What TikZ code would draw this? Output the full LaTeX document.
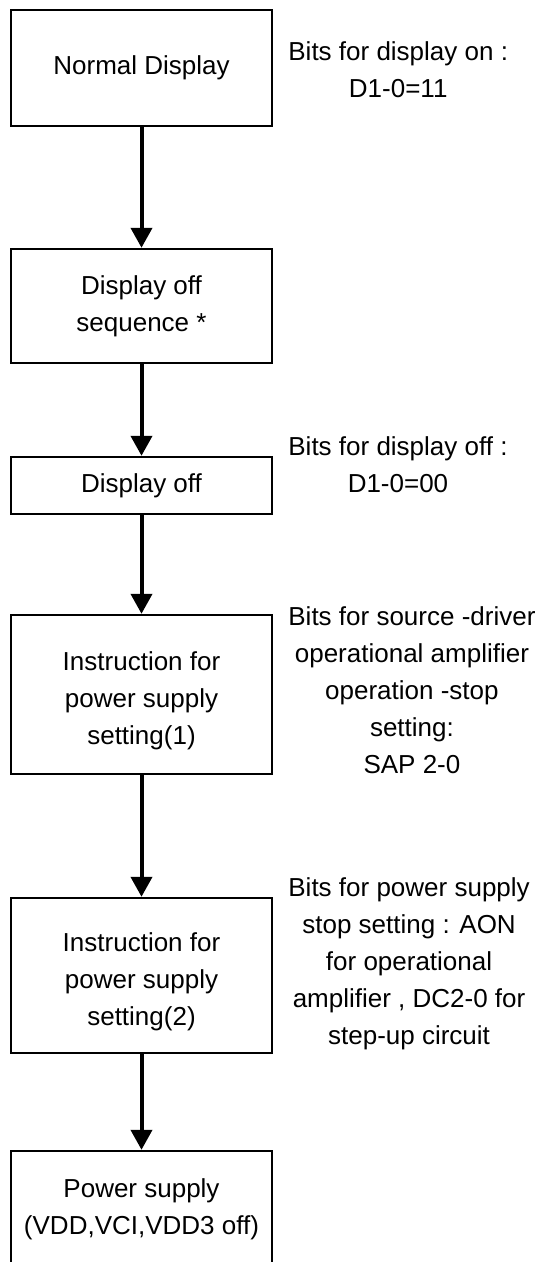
\documentclass[tikz,border=0pt]{standalone}
\usepackage{fontspec}
\setmainfont{Liberation Sans}
\usetikzlibrary{arrows.meta}
\tikzset{
  stepbox/.style={draw,line width=1.2pt,minimum width=130.5pt,inner sep=0pt,align=center},
  note/.style={anchor=west,align=center,inner sep=0pt},
  flow/.style={line width=2pt,-{Triangle[width=10.5pt,length=10pt]}}
}
\begin{document}
\begin{tikzpicture}[x=0.5pt,y=-0.5pt,font=\fontsize{13}{18.5}\selectfont]
  \clip (0,0) rectangle (544,1262);
  \node[stepbox,minimum height=58pt] (normal) at (141.5,68) {Normal Display};
  \node[stepbox,minimum height=57pt] (offseq) at (141.5,306) {Display off\\sequence *};
  \node[stepbox,minimum height=28.5pt] (dispoff) at (141.5,485.5) {Display off};
  \node[stepbox,minimum height=79.5pt] (power1) at (141.5,694.5) {\rule{0pt}{16pt}Instruction for\\power supply\\setting(1)};
  \node[stepbox,minimum height=77.5pt] (power2) at (141.5,975.5) {\rule{0pt}{16pt}Instruction for\\power supply\\setting(2)};
  \node[stepbox,minimum height=58pt] (supplyoff) at (141.5,1209) {Power supply\\(VDD,VCI,VDD3 off)};
  \node[note] (bitson) at (288,70) {Bits for display on :\\D1-0=11};
  \node[note] (bitsoff) at (288,464.5) {Bits for display off :\\D1-0=00};
  \node[note] (bitssap) at (288,690) {Bits for source -driver\\operational amplifier\\operation -stop\\setting:\\SAP 2-0};
  \node[note] (bitsaon) at (288,964) {Bits for power supply\\stop setting : AON\\for operational\\amplifier , DC2-0 for\\step-up circuit};
  \draw[flow] (normal) -- (offseq);
  \draw[flow] (offseq) -- (dispoff);
  \draw[flow] (dispoff) -- (power1);
  \draw[flow] (power1) -- (power2);
  \draw[flow] (power2) -- (supplyoff);
\end{tikzpicture}
\end{document}
